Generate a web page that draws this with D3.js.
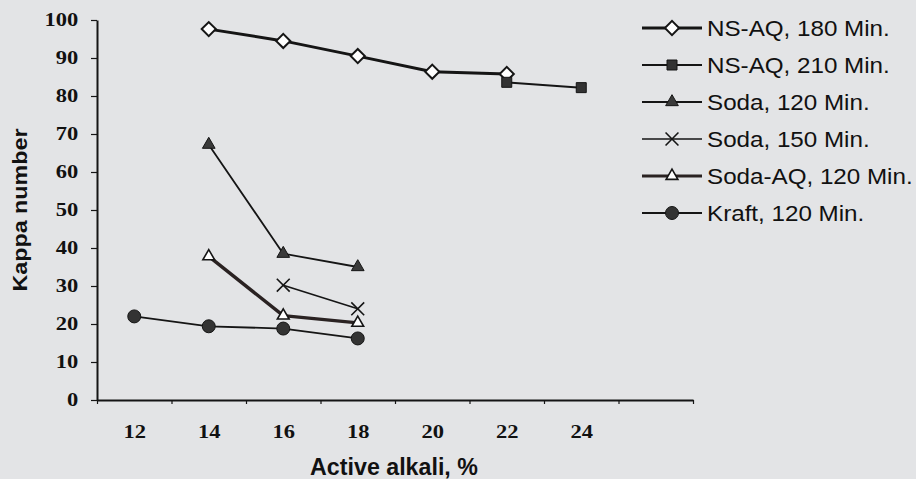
<!DOCTYPE html>
<html>
<head>
<meta charset="utf-8">
<script src="https://cdn.jsdelivr.net/npm/d3@7"></script>
<style>
  body { margin: 0; background: #e3e4e6; }
  svg { display: block; }
</style>
</head>
<body>
<svg width="916" height="479"></svg>
<script>
// values
const xTicksMinor = [11, 13, 15, 17, 19, 21, 23, 25, 27];
const xLabels = [12, 14, 16, 18, 20, 22, 24];
const yTicks = [0, 10, 20, 30, 40, 50, 60, 70, 80, 90, 100];

const seriesNames = ['NS-AQ, 180 Min.', 'NS-AQ, 210 Min.', 'Soda, 120 Min.',
  'Soda, 150 Min.', 'Soda-AQ, 120 Min.', 'Kraft, 120 Min.'];

const nsAq180X = [14, 16, 18, 20, 22];
const nsAq180Y = [97.6, 94.5, 90.5, 86.4, 85.8];
const nsAq210X = [22, 24];
const nsAq210Y = [83.6, 82.2];
const soda120X = [14, 16, 18];
const soda120Y = [67.2, 38.5, 35.0];
const soda150X = [16, 18];
const soda150Y = [30.2, 24.0];
const sodaAq120X = [14, 16, 18];
const sodaAq120Y = [37.8, 22.2, 20.3];
const kraft120X = [12, 14, 16, 18];
const kraft120Y = [22.0, 19.4, 18.8, 16.2];

const svg = d3.select('svg');
svg.append('rect').attr('width', 916).attr('height', 479).attr('fill', '#e3e4e6');

const x = d3.scaleLinear().domain([11, 27]).range([97, 693]);
const y = d3.scaleLinear().domain([0, 100]).range([400, 20]);

const ink = '#151515';
const zip = (xs, ys) => xs.map((v, i) => ({x: v, y: ys[i]}));

const series = [
  {name: seriesNames[0], pts: zip(nsAq180X, nsAq180Y), width: 3, mark: 'diamond'},
  {name: seriesNames[1], pts: zip(nsAq210X, nsAq210Y), width: 2, mark: 'square'},
  {name: seriesNames[2], pts: zip(soda120X, soda120Y), width: 1.8, mark: 'triangle'},
  {name: seriesNames[3], pts: zip(soda150X, soda150Y), width: 1.6, mark: 'x'},
  {name: seriesNames[4], pts: zip(sodaAq120X, sodaAq120Y), width: 3.4, mark: 'openTriangle'},
  {name: seriesNames[5], pts: zip(kraft120X, kraft120Y), width: 1.8, mark: 'circle'}
];

function drawMark(g, type) {
  if (type === 'diamond') {
    g.append('path').attr('d', d3.symbol(d3.symbolSquare, 100)())
      .attr('transform', 'rotate(45)')
      .attr('fill', '#fff').attr('stroke', ink).attr('stroke-width', 2);
  } else if (type === 'square') {
    g.append('path').attr('d', d3.symbol(d3.symbolSquare, 100)())
      .attr('fill', '#333').attr('stroke', ink).attr('stroke-width', 1);
  } else if (type === 'triangle') {
    g.append('path').attr('d', d3.symbol(d3.symbolTriangle, 70)())
      .attr('fill', '#3a3a3a').attr('stroke', ink).attr('stroke-width', 1);
  } else if (type === 'openTriangle') {
    g.append('path').attr('d', d3.symbol(d3.symbolTriangle, 60)())
      .attr('fill', '#fff').attr('stroke', ink).attr('stroke-width', 1.6);
  } else if (type === 'x') {
    g.append('path').attr('d', d3.symbol(d3.symbolTimes, 110)())
      .attr('fill', 'none').attr('stroke', ink).attr('stroke-width', 1.6);
  } else {
    g.append('circle').attr('r', 6.5)
      .attr('fill', '#333').attr('stroke', ink).attr('stroke-width', 1);
  }
}

// axes
const yAxis = svg.append('g')
  .attr('transform', `translate(${x(11)},0)`)
  .call(d3.axisLeft(y).tickValues(yTicks).tickSize(6).tickPadding(9).tickSizeOuter(0));
yAxis.select('.domain').attr('stroke', ink).attr('stroke-width', 2);
yAxis.selectAll('.tick line').attr('stroke', ink).attr('stroke-width', 1.2);
yAxis.selectAll('.tick text')
  .attr('font-family', '"Liberation Serif", serif').attr('font-weight', 'bold')
  .attr('font-size', 18).attr('fill', '#111')
  .attr('transform', 'translate(-15,0) scale(1.25,1) translate(12,0)');

const xAxis = svg.append('g')
  .attr('transform', `translate(0,${y(0)})`)
  .call(d3.axisBottom(x).tickValues(xTicksMinor).tickSize(4).tickFormat('').tickSizeOuter(0));
xAxis.select('.domain').attr('stroke', ink).attr('stroke-width', 2);
xAxis.selectAll('.tick line').attr('stroke', ink).attr('stroke-width', 1.2);

const xLab = svg.append('g')
  .attr('transform', `translate(0,${y(0)})`)
  .call(d3.axisBottom(x).tickValues(xLabels).tickSize(0).tickPadding(25));
xLab.select('.domain').remove();
xLab.selectAll('.tick text')
  .attr('font-family', '"Liberation Serif", serif').attr('font-weight', 'bold')
  .attr('font-size', 18).attr('fill', '#111')
  .attr('transform', 'scale(1.25,1)');

// series
const line = d3.line().x(d => x(d.x)).y(d => y(d.y));
series.forEach(s => {
  svg.append('path').datum(s.pts)
    .attr('d', line).attr('fill', 'none')
    .attr('stroke', s.mark === 'openTriangle' ? '#2a2222' : ink)
    .attr('stroke-width', s.width).attr('stroke-linejoin', 'round');
});
series.forEach(s => {
  s.pts.forEach(p => {
    const g = svg.append('g').attr('transform', `translate(${x(p.x)},${y(p.y)})`);
    drawMark(g, s.mark);
  });
});

// axis titles
svg.append('text')
  .attr('transform', 'translate(27,210) rotate(-90) scale(1.11,1)')
  .attr('text-anchor', 'middle')
  .attr('font-family', '"Liberation Sans", Arial, sans-serif').attr('font-weight', 'bold')
  .attr('font-size', 21).attr('fill', '#111')
  .text('Kappa number');

svg.append('text')
  .attr('transform', 'translate(394,475) scale(1.01,1)')
  .attr('text-anchor', 'middle')
  .attr('font-family', '"Liberation Sans", Arial, sans-serif').attr('font-weight', 'bold')
  .attr('font-size', 23).attr('fill', '#111')
  .text('Active alkali, %');

// legend
const legend = svg.append('g').attr('transform', 'translate(642,28)');
series.forEach((s, i) => {
  const row = legend.append('g').attr('transform', `translate(0,${i * 37})`);
  row.append('line').attr('x1', 0).attr('x2', 60)
    .attr('stroke', s.mark === 'openTriangle' ? '#2a2222' : ink)
    .attr('stroke-width', Math.min(s.width, 3));
  drawMark(row.append('g').attr('transform', 'translate(30,0)'), s.mark);
  row.append('text')
    .attr('transform', 'translate(65,8) scale(1.1,1)')
    .attr('font-family', '"Liberation Sans", Arial, sans-serif')
    .attr('font-size', 22).attr('fill', '#111')
    .text(s.name);
});
</script>
</body>
</html>
